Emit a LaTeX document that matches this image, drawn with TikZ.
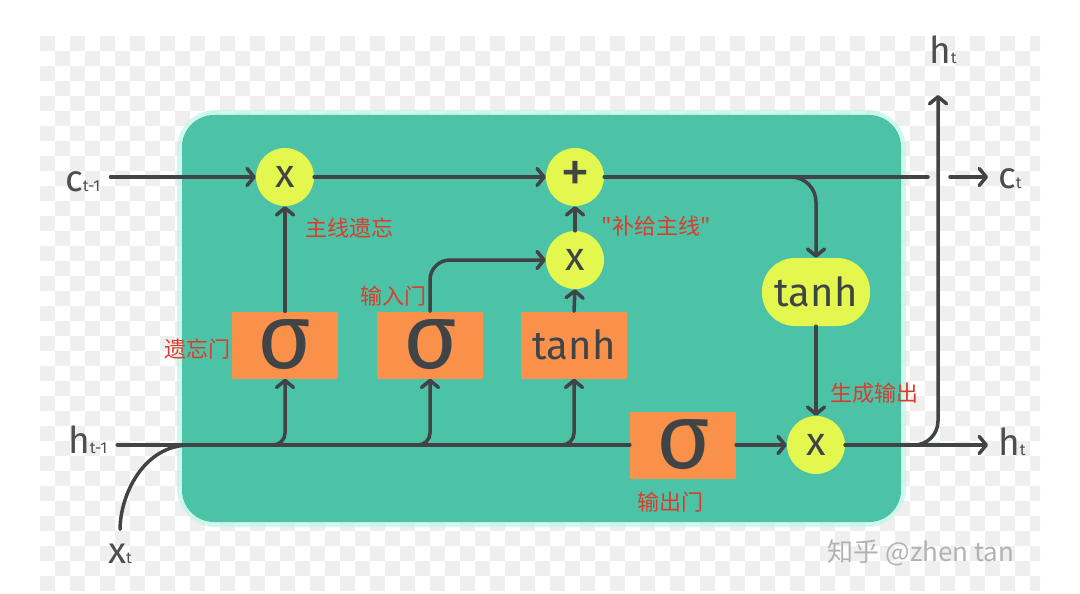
\documentclass[tikz,border=0pt]{standalone}
\usepackage{fontspec}
\setmainfont{Fira Sans}
\newfontfamily\cjk{Noto Sans CJK SC}
\usetikzlibrary{arrows.meta, calc}
\definecolor{cellteal}{RGB}{76,194,166}
\definecolor{cellglow}{RGB}{196,246,232}
\definecolor{oplemon}{RGB}{228,247,78}
\definecolor{gateorange}{RGB}{250,145,75}
\definecolor{wirec}{RGB}{64,68,70}
\definecolor{notered}{RGB}{220,60,45}
\definecolor{iogray}{RGB}{78,78,78}
\definecolor{checker}{RGB}{239,239,239}

\begin{document}
\begin{tikzpicture}[x=1pt, y=-1pt,
    wire/.style={line width=3.5pt, draw=wirec, line cap=round},
    flow/.style={wire, -{Straight Barb[length=7pt, width=17pt, round]}},
    gate/.style={fill=gateorange, minimum width=106pt, minimum height=67pt,
                 inner sep=0pt, text=wirec},
    op/.style={circle, fill=oplemon, minimum size=58pt, inner sep=0pt,
               text=wirec, font=\fontsize{40}{40}\selectfont},
    note/.style={text=notered, font=\cjk\fontsize{22}{22}\selectfont, inner sep=0pt},
    io/.style={text=iogray, inner xsep=10pt, inner ysep=0pt, anchor=base west}]

    \useasboundingbox (0,0) rectangle (1080,594);

    % Checker background
    \begin{scope}
        \clip (40,36) rectangle (1040,590);
        \foreach \i in {0,...,66}
            \foreach \j in {0,...,36}{
                \pgfmathtruncatemacro\k{\i+\j}
                \ifodd\k\else
                    \fill[checker] (40+15*\i, 36+15*\j) rectangle ++(15,15);
                \fi
            }
    \end{scope}

    % Cell body
    \draw[cellglow, line width=10pt, rounded corners=34pt, opacity=0.8]
        (182,115) rectangle (901,522);
    \fill[cellteal, rounded corners=32pt] (182,115) rectangle (901,522);

    % Gates
    \node[gate, font=\fontsize{92}{92}\selectfont] (sigf) at (285,345) {σ};
    \node[gate, font=\fontsize{92}{92}\selectfont] (sigi) at (430,345) {σ};
    \node[gate, font=\fontsize{40}{40}\selectfont] (tanhg) at (574,345) {tanh};
    \node[gate, font=\fontsize{92}{92}\selectfont] (sigo) at (683,445) {σ};

    % Pointwise operations
    \node[op] (fmul) at (285,177) {x};
    \node[op, font=\fontsize{60}{60}\selectfont] (cadd) at (575,177) {+};
    \node[op] (imul) at (575,260) {x};
    \node[op] (omul) at (816,445) {x};
    \node[fill=oplemon, rounded corners=33pt, minimum width=108pt,
          minimum height=68pt, text=wirec, font=\fontsize{40}{40}\selectfont]
        (tanhc) at (816,292) {tanh};

    % Inputs and outputs
    \node[io] (cprev) at (55,191)
        {\fontsize{37}{37}\selectfont c\fontsize{16}{16}\selectfont t-1};
    \node[io] (hprev) at (58,453)
        {\fontsize{37}{37}\selectfont h\fontsize{16}{16}\selectfont t-1};
    \node[io] (xt) at (98,563)
        {\fontsize{37}{37}\selectfont x\fontsize{16}{16}\selectfont t};
    \node[io] (cnext) at (988,188)
        {\fontsize{37}{37}\selectfont c\fontsize{16}{16}\selectfont t};
    \node[io] (hnext) at (988,455)
        {\fontsize{37}{37}\selectfont h\fontsize{16}{16}\selectfont t};
    \node[io] (hup) at (919,64)
        {\fontsize{37}{37}\selectfont h\fontsize{16}{16}\selectfont t};
    \coordinate (htip) at (938,95);
    \coordinate (merge) at (190,445);
    \coordinate (csplit) at (790,177);
    \coordinate (cgap) at (928,177);
    \coordinate (cresume) at (950,177);

    % Cell state line
    \draw[flow] (cprev.east |- fmul.west) -- (fmul.west);
    \draw[flow] (fmul.east) -- (cadd.west);
    \draw[wire] (cadd.east) -- (cgap);
    \draw[flow] (cresume) -- (cnext.west |- cresume);
    \draw[flow, rounded corners=25pt] (csplit) -| (tanhc.north);

    % Hidden state line
    \draw[wire, shorten <=14pt] (xt.north) to[out=90, in=180] (merge);
    \draw[wire] (hprev.east |- sigo.west) -- (sigo.west);
    \foreach \g in {sigf, sigi, tanhg}
        \draw[flow, rounded corners=12pt] (hprev.east |- sigo.west) -| (\g.south);
    \draw[flow] (sigo.east) -- (omul.west);
    \draw[flow] (omul.east) -- (hnext.west |- omul.east);
    \draw[flow, rounded corners=24pt] (omul.east) -| (htip);

    % Gate outputs
    \draw[flow] (sigf.north) -- (fmul.south);
    \draw[flow, rounded corners=20pt] (sigi.north) |- (imul.west);
    \draw[flow] (tanhg.north) -- (imul.south);
    \draw[flow] (imul.north) -- (cadd.south);
    \draw[flow] (tanhc.south) -- (omul.north);

    % Notes
    \node[note] (nforget) at (349,228) {主线遗忘};
    \node[note] (ninput) at (393,296) {输入门};
    \node[note] (nfgate) at (197,349) {遗忘门};
    \node[note] (nadd) at (656,226) {"补给主线"};
    \node[note] (nout) at (874,393) {生成输出};
    \node[note] (nogate) at (670,502) {输出门};

    % Watermark
    \node[text=gray!60, font=\cjk\fontsize{26}{26}\selectfont] (mark)
        at (921,553) {知乎 @zhen tan};
\end{tikzpicture}
\end{document}
